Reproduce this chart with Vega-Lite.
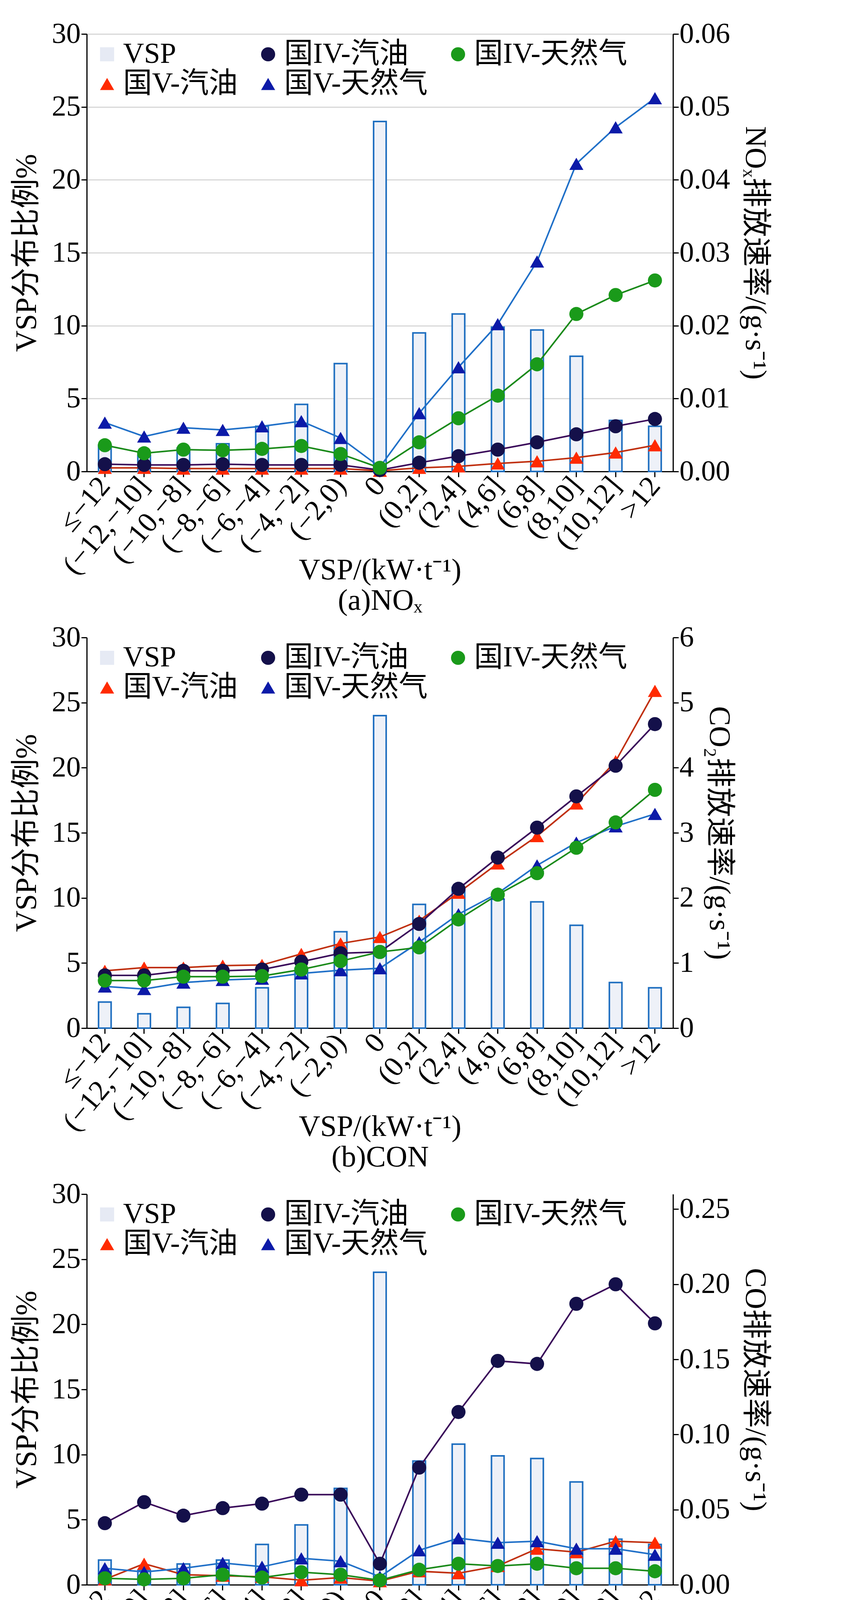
{
  "$schema": "https://vega.github.io/schema/vega-lite/v6.json",
  "padding": {"left": 30, "top": 50, "right": 10, "bottom": 5},
  "spacing": 20,
  "config": {
    "view": {"stroke": null},
    "font": "Liberation Serif, Noto Sans CJK SC",
    "axis": {"labelFontSize": 74, "titleFontSize": 76, "titleFontWeight": "normal", "labelColor": "black", "titleColor": "black", "domainColor": "black", "domainWidth": 3, "tickColor": "black", "tickWidth": 3, "tickSize": 14, "labelFont": "Liberation Serif", "titleFont": "Liberation Serif, Noto Sans CJK SC", "labelLimit": 1000},
    "legend": {"labelFontSize": 74, "labelFont": "Liberation Serif, Noto Sans CJK SC", "symbolSize": 1300, "orient": "top-left", "columns": 3, "title": null, "offset": 15, "rowPadding": 2, "columnPadding": 40, "labelLimit": 800}
  },
  "datasets": {
    "nox": [
      {"bin": "≤−12", "VSP": 1.8, "国V-汽油": 0.0005, "国IV-汽油": 0.0010, "国V-天然气": 0.0067, "国IV-天然气": 0.0036},
      {"bin": "(−12,−10]", "VSP": 1.1, "国V-汽油": 0.0005, "国IV-汽油": 0.0009, "国V-天然气": 0.0048, "国IV-天然气": 0.0025},
      {"bin": "(−10,−8]", "VSP": 1.6, "国V-汽油": 0.0004, "国IV-汽油": 0.0009, "国V-天然气": 0.0060, "国IV-天然气": 0.0030},
      {"bin": "(−8,−6]", "VSP": 1.9, "国V-汽油": 0.0004, "国IV-汽油": 0.0010, "国V-天然气": 0.0057, "国IV-天然气": 0.0029},
      {"bin": "(−6,−4]", "VSP": 3.1, "国V-汽油": 0.0004, "国IV-汽油": 0.0009, "国V-天然气": 0.0062, "国IV-天然气": 0.0031},
      {"bin": "(−4,−2]", "VSP": 4.6, "国V-汽油": 0.0004, "国IV-汽油": 0.0009, "国V-天然气": 0.0069, "国IV-天然气": 0.0035},
      {"bin": "(−2,0)", "VSP": 7.4, "国V-汽油": 0.0004, "国IV-汽油": 0.0009, "国V-天然气": 0.0046, "国IV-天然气": 0.0024},
      {"bin": "0", "VSP": 24.0, "国V-汽油": 0.0001, "国IV-汽油": 0.0002, "国V-天然气": 0.0006, "国IV-天然气": 0.0005},
      {"bin": "(0,2]", "VSP": 9.5, "国V-汽油": 0.0005, "国IV-汽油": 0.0012, "国V-天然气": 0.0080, "国IV-天然气": 0.0040},
      {"bin": "(2,4]", "VSP": 10.8, "国V-汽油": 0.0007, "国IV-汽油": 0.0021, "国V-天然气": 0.0143, "国IV-天然气": 0.0073},
      {"bin": "(4,6]", "VSP": 9.9, "国V-汽油": 0.0011, "国IV-汽油": 0.0030, "国V-天然气": 0.0202, "国IV-天然气": 0.0104},
      {"bin": "(6,8]", "VSP": 9.7, "国V-汽油": 0.0014, "国IV-汽油": 0.0040, "国V-天然气": 0.0288, "国IV-天然气": 0.0147},
      {"bin": "(8,10]", "VSP": 7.9, "国V-汽油": 0.0019, "国IV-汽油": 0.0051, "国V-天然气": 0.0422, "国IV-天然气": 0.0216},
      {"bin": "(10,12]", "VSP": 3.5, "国V-汽油": 0.0026, "国IV-汽油": 0.0062, "国V-天然气": 0.0472, "国IV-天然气": 0.0242},
      {"bin": ">12", "VSP": 3.1, "国V-汽油": 0.0036, "国IV-汽油": 0.0072, "国V-天然气": 0.0512, "国IV-天然气": 0.0262}
    ],
    "co2": [
      {"bin": "≤−12", "VSP": 2.0, "国V-汽油": 0.88, "国IV-汽油": 0.81, "国V-天然气": 0.64, "国IV-天然气": 0.73},
      {"bin": "(−12,−10]", "VSP": 1.1, "国V-汽油": 0.93, "国IV-汽油": 0.81, "国V-天然气": 0.60, "国IV-天然气": 0.73},
      {"bin": "(−10,−8]", "VSP": 1.6, "国V-汽油": 0.93, "国IV-汽油": 0.88, "国V-天然气": 0.70, "国IV-天然气": 0.79},
      {"bin": "(−8,−6]", "VSP": 1.9, "国V-汽油": 0.96, "国IV-汽油": 0.88, "国V-天然气": 0.74, "国IV-天然气": 0.79},
      {"bin": "(−6,−4]", "VSP": 3.1, "国V-汽油": 0.97, "国IV-汽油": 0.90, "国V-天然气": 0.76, "国IV-天然气": 0.80},
      {"bin": "(−4,−2]", "VSP": 4.6, "国V-汽油": 1.14, "国IV-汽油": 1.02, "国V-天然气": 0.84, "国IV-天然气": 0.90},
      {"bin": "(−2,0)", "VSP": 7.4, "国V-汽油": 1.30, "国IV-汽油": 1.15, "国V-天然气": 0.89, "国IV-天然气": 1.03},
      {"bin": "0", "VSP": 24.0, "国V-汽油": 1.40, "国IV-汽油": 1.17, "国V-天然气": 0.92, "国IV-天然气": 1.17},
      {"bin": "(0,2]", "VSP": 9.5, "国V-汽油": 1.65, "国IV-汽油": 1.60, "国V-天然气": 1.32, "国IV-天然气": 1.24},
      {"bin": "(2,4]", "VSP": 10.8, "国V-汽油": 2.08, "国IV-汽油": 2.14, "国V-天然气": 1.75, "国IV-天然气": 1.67},
      {"bin": "(4,6]", "VSP": 9.9, "国V-汽油": 2.53, "国IV-汽油": 2.62, "国V-天然气": 2.07, "国IV-天然气": 2.05},
      {"bin": "(6,8]", "VSP": 9.7, "国V-汽油": 2.95, "国IV-汽油": 3.08, "国V-天然气": 2.50, "国IV-天然气": 2.38},
      {"bin": "(8,10]", "VSP": 7.9, "国V-汽油": 3.45, "国IV-汽油": 3.56, "国V-天然气": 2.85, "国IV-天然气": 2.77},
      {"bin": "(10,12]", "VSP": 3.5, "国V-汽油": 4.10, "国IV-汽油": 4.03, "国V-天然气": 3.10, "国IV-天然气": 3.16},
      {"bin": ">12", "VSP": 3.1, "国V-汽油": 5.18, "国IV-汽油": 4.67, "国V-天然气": 3.29, "国IV-天然气": 3.66}
    ],
    "co": [
      {"bin": "≤−12", "VSP": 1.9, "国V-汽油": 0.0036, "国IV-汽油": 0.041, "国V-天然气": 0.0110, "国IV-天然气": 0.0043},
      {"bin": "(−12,−10]", "VSP": 1.1, "国V-汽油": 0.0140, "国IV-汽油": 0.055, "国V-天然气": 0.0085, "国IV-天然气": 0.0036},
      {"bin": "(−10,−8]", "VSP": 1.6, "国V-汽油": 0.0067, "国IV-汽油": 0.046, "国V-天然气": 0.0110, "国IV-天然气": 0.0043},
      {"bin": "(−8,−6]", "VSP": 1.9, "国V-汽油": 0.0060, "国IV-汽油": 0.051, "国V-天然气": 0.0145, "国IV-天然气": 0.0067},
      {"bin": "(−6,−4]", "VSP": 3.1, "国V-汽油": 0.0053, "国IV-汽油": 0.054, "国V-天然气": 0.0120, "国IV-天然气": 0.0048},
      {"bin": "(−4,−2]", "VSP": 4.6, "国V-汽油": 0.0030, "国IV-汽油": 0.060, "国V-天然气": 0.0176, "国IV-天然气": 0.0084},
      {"bin": "(−2,0)", "VSP": 7.4, "国V-汽油": 0.0048, "国IV-汽油": 0.060, "国V-天然气": 0.0157, "国IV-天然气": 0.0067},
      {"bin": "0", "VSP": 24.0, "国V-汽油": 0.0024, "国IV-汽油": 0.014, "国V-天然气": 0.0053, "国IV-天然气": 0.0030},
      {"bin": "(0,2]", "VSP": 9.5, "国V-汽油": 0.0090, "国IV-汽油": 0.078, "国V-天然气": 0.0230, "国IV-天然气": 0.0100},
      {"bin": "(2,4]", "VSP": 10.8, "国V-汽油": 0.0077, "国IV-汽油": 0.115, "国V-天然气": 0.0310, "国IV-天然气": 0.0140},
      {"bin": "(4,6]", "VSP": 9.9, "国V-汽油": 0.0125, "国IV-汽油": 0.149, "国V-天然气": 0.0280, "国IV-天然气": 0.0125},
      {"bin": "(6,8]", "VSP": 9.7, "国V-汽油": 0.0240, "国IV-汽油": 0.147, "国V-天然气": 0.0290, "国IV-天然气": 0.0140},
      {"bin": "(8,10]", "VSP": 7.9, "国V-汽油": 0.0217, "国IV-汽油": 0.187, "国V-天然气": 0.0240, "国IV-天然气": 0.0110},
      {"bin": "(10,12]", "VSP": 3.5, "国V-汽油": 0.0290, "国IV-汽油": 0.200, "国V-天然气": 0.0240, "国IV-天然气": 0.0110},
      {"bin": ">12", "VSP": 3.1, "国V-汽油": 0.0280, "国IV-汽油": 0.174, "国V-天然气": 0.0200, "国IV-天然气": 0.0090}
    ]
  },
  "vconcat": [
    {
      "width": 1500, "height": 1120,
      "data": {"name": "nox"},
      "layer": [
        {
          "mark": {"type": "bar", "fill": "#eef1f8", "stroke": "#1f6fc0", "strokeWidth": 4},
          "encoding": {
            "x": {"field": "bin", "type": "nominal", "sort": null, "scale": {"paddingInner": 0.68, "paddingOuter": 0.3}, "axis": {"labelAngle": -50, "labelAlign": "right", "labelBaseline": "middle", "labelPadding": 10, "title": ["VSP/(kW·t⁻¹)", "(a)NOₓ"], "titlePadding": 15}},
            "y": {"field": "VSP", "type": "quantitative", "scale": {"domain": [0, 30]}, "axis": {"title": "VSP分布比例%", "values": [0, 5, 10, 15, 20, 25, 30], "grid": true, "gridColor": "#d8d8d8", "gridWidth": 3, "titlePadding": 25}}
          }
        },
        {
          "transform": [{"fold": ["国V-汽油", "国IV-汽油", "国V-天然气", "国IV-天然气"], "as": ["series", "rate"]}],
          "layer": [
            {
              "mark": {"type": "line", "strokeWidth": 4},
              "encoding": {
                "x": {"field": "bin", "type": "nominal", "sort": null},
                "y": {"field": "rate", "type": "quantitative", "scale": {"domain": [0, 0.06]}, "axis": {"orient": "right", "format": ".2f", "values": [0, 0.01, 0.02, 0.03, 0.04, 0.05, 0.06], "title": "NOₓ排放速率/(g·s⁻¹)", "titlePadding": 25}},
                "color": {"field": "series", "type": "nominal", "legend": null, "scale": {"domain": ["国V-汽油", "国IV-汽油", "国V-天然气", "国IV-天然气"], "range": ["#c03010", "#3a0a5a", "#2070c8", "#1a8a1a"]}},
                "detail": {"field": "series"}
              }
            },
            {
              "mark": {"type": "point", "filled": true, "size": 1300, "opacity": 1},
              "encoding": {
                "x": {"field": "bin", "type": "nominal", "sort": null},
                "y": {"field": "rate", "type": "quantitative"},
                "fill": {"field": "series", "type": "nominal", "sort": ["VSP", "国V-汽油", "国IV-汽油", "国V-天然气", "国IV-天然气"], "scale": {"domain": ["VSP", "国V-汽油", "国IV-汽油", "国V-天然气", "国IV-天然气"], "range": ["#e6eaf4", "#ff2a00", "#14104a", "#0c1aa8", "#1a9a1a"]}, "legend": {"values": ["VSP", "国V-汽油", "国IV-汽油", "国V-天然气", "国IV-天然气"]}},
                "shape": {"field": "series", "type": "nominal", "sort": ["VSP", "国V-汽油", "国IV-汽油", "国V-天然气", "国IV-天然气"], "scale": {"domain": ["VSP", "国V-汽油", "国IV-汽油", "国V-天然气", "国IV-天然气"], "range": ["square", "triangle-up", "circle", "triangle-up", "circle"]}, "legend": {"values": ["VSP", "国V-汽油", "国IV-汽油", "国V-天然气", "国IV-天然气"]}}
              }
            }
          ]
        }
      ],
      "resolve": {"scale": {"y": "independent", "color": "independent"}}
    },
    {
      "width": 1500, "height": 1000,
      "data": {"name": "co2"},
      "layer": [
        {
          "mark": {"type": "bar", "fill": "#eef1f8", "stroke": "#1f6fc0", "strokeWidth": 4},
          "encoding": {
            "x": {"field": "bin", "type": "nominal", "sort": null, "scale": {"paddingInner": 0.68, "paddingOuter": 0.3}, "axis": {"labelAngle": -50, "labelAlign": "right", "labelBaseline": "middle", "labelPadding": 10, "title": ["VSP/(kW·t⁻¹)", "(b)CON"], "titlePadding": 15}},
            "y": {"field": "VSP", "type": "quantitative", "scale": {"domain": [0, 30]}, "axis": {"title": "VSP分布比例%", "values": [0, 5, 10, 15, 20, 25, 30], "grid": false, "titlePadding": 25}}
          }
        },
        {
          "transform": [{"fold": ["国V-汽油", "国IV-汽油", "国V-天然气", "国IV-天然气"], "as": ["series", "rate"]}],
          "layer": [
            {
              "mark": {"type": "line", "strokeWidth": 4},
              "encoding": {
                "x": {"field": "bin", "type": "nominal", "sort": null},
                "y": {"field": "rate", "type": "quantitative", "scale": {"domain": [0, 6]}, "axis": {"orient": "right", "format": "d", "values": [0, 1, 2, 3, 4, 5, 6], "title": "CO₂排放速率/(g·s⁻¹)", "titlePadding": 25}},
                "color": {"field": "series", "type": "nominal", "legend": null, "scale": {"domain": ["国V-汽油", "国IV-汽油", "国V-天然气", "国IV-天然气"], "range": ["#c03010", "#3a0a5a", "#2070c8", "#1a8a1a"]}},
                "detail": {"field": "series"}
              }
            },
            {
              "mark": {"type": "point", "filled": true, "size": 1300, "opacity": 1},
              "encoding": {
                "x": {"field": "bin", "type": "nominal", "sort": null},
                "y": {"field": "rate", "type": "quantitative"},
                "fill": {"field": "series", "type": "nominal", "sort": ["VSP", "国V-汽油", "国IV-汽油", "国V-天然气", "国IV-天然气"], "scale": {"domain": ["VSP", "国V-汽油", "国IV-汽油", "国V-天然气", "国IV-天然气"], "range": ["#e6eaf4", "#ff2a00", "#14104a", "#0c1aa8", "#1a9a1a"]}, "legend": {"values": ["VSP", "国V-汽油", "国IV-汽油", "国V-天然气", "国IV-天然气"]}},
                "shape": {"field": "series", "type": "nominal", "sort": ["VSP", "国V-汽油", "国IV-汽油", "国V-天然气", "国IV-天然气"], "scale": {"domain": ["VSP", "国V-汽油", "国IV-汽油", "国V-天然气", "国IV-天然气"], "range": ["square", "triangle-up", "circle", "triangle-up", "circle"]}, "legend": {"values": ["VSP", "国V-汽油", "国IV-汽油", "国V-天然气", "国IV-天然气"]}}
              }
            }
          ]
        }
      ],
      "resolve": {"scale": {"y": "independent", "color": "independent"}}
    },
    {
      "width": 1500, "height": 1000,
      "data": {"name": "co"},
      "layer": [
        {
          "mark": {"type": "bar", "fill": "#eef1f8", "stroke": "#1f6fc0", "strokeWidth": 4},
          "encoding": {
            "x": {"field": "bin", "type": "nominal", "sort": null, "scale": {"paddingInner": 0.68, "paddingOuter": 0.3}, "axis": {"labelAngle": -50, "labelAlign": "right", "labelBaseline": "middle", "labelPadding": 10, "title": ["VSP/(kW·t⁻¹)", "(c)CO"], "titlePadding": 15}},
            "y": {"field": "VSP", "type": "quantitative", "scale": {"domain": [0, 30]}, "axis": {"title": "VSP分布比例%", "values": [0, 5, 10, 15, 20, 25, 30], "grid": false, "titlePadding": 25}}
          }
        },
        {
          "transform": [{"fold": ["国V-汽油", "国IV-汽油", "国V-天然气", "国IV-天然气"], "as": ["series", "rate"]}],
          "layer": [
            {
              "mark": {"type": "line", "strokeWidth": 4},
              "encoding": {
                "x": {"field": "bin", "type": "nominal", "sort": null},
                "y": {"field": "rate", "type": "quantitative", "scale": {"domain": [0, 0.25]}, "axis": {"orient": "right", "format": ".2f", "values": [0, 0.05, 0.1, 0.15, 0.2, 0.25], "title": "CO排放速率/(g·s⁻¹)", "titlePadding": 25}},
                "color": {"field": "series", "type": "nominal", "legend": null, "scale": {"domain": ["国V-汽油", "国IV-汽油", "国V-天然气", "国IV-天然气"], "range": ["#c03010", "#3a0a5a", "#2070c8", "#1a8a1a"]}},
                "detail": {"field": "series"}
              }
            },
            {
              "mark": {"type": "point", "filled": true, "size": 1300, "opacity": 1},
              "encoding": {
                "x": {"field": "bin", "type": "nominal", "sort": null},
                "y": {"field": "rate", "type": "quantitative"},
                "fill": {"field": "series", "type": "nominal", "sort": ["VSP", "国V-汽油", "国IV-汽油", "国V-天然气", "国IV-天然气"], "scale": {"domain": ["VSP", "国V-汽油", "国IV-汽油", "国V-天然气", "国IV-天然气"], "range": ["#e6eaf4", "#ff2a00", "#14104a", "#0c1aa8", "#1a9a1a"]}, "legend": {"values": ["VSP", "国V-汽油", "国IV-汽油", "国V-天然气", "国IV-天然气"]}},
                "shape": {"field": "series", "type": "nominal", "sort": ["VSP", "国V-汽油", "国IV-汽油", "国V-天然气", "国IV-天然气"], "scale": {"domain": ["VSP", "国V-汽油", "国IV-汽油", "国V-天然气", "国IV-天然气"], "range": ["square", "triangle-up", "circle", "triangle-up", "circle"]}, "legend": {"values": ["VSP", "国V-汽油", "国IV-汽油", "国V-天然气", "国IV-天然气"]}}
              }
            }
          ]
        }
      ],
      "resolve": {"scale": {"y": "independent", "color": "independent"}}
    }
  ],
  "resolve": {"scale": {"fill": "independent", "shape": "independent"}}
}
